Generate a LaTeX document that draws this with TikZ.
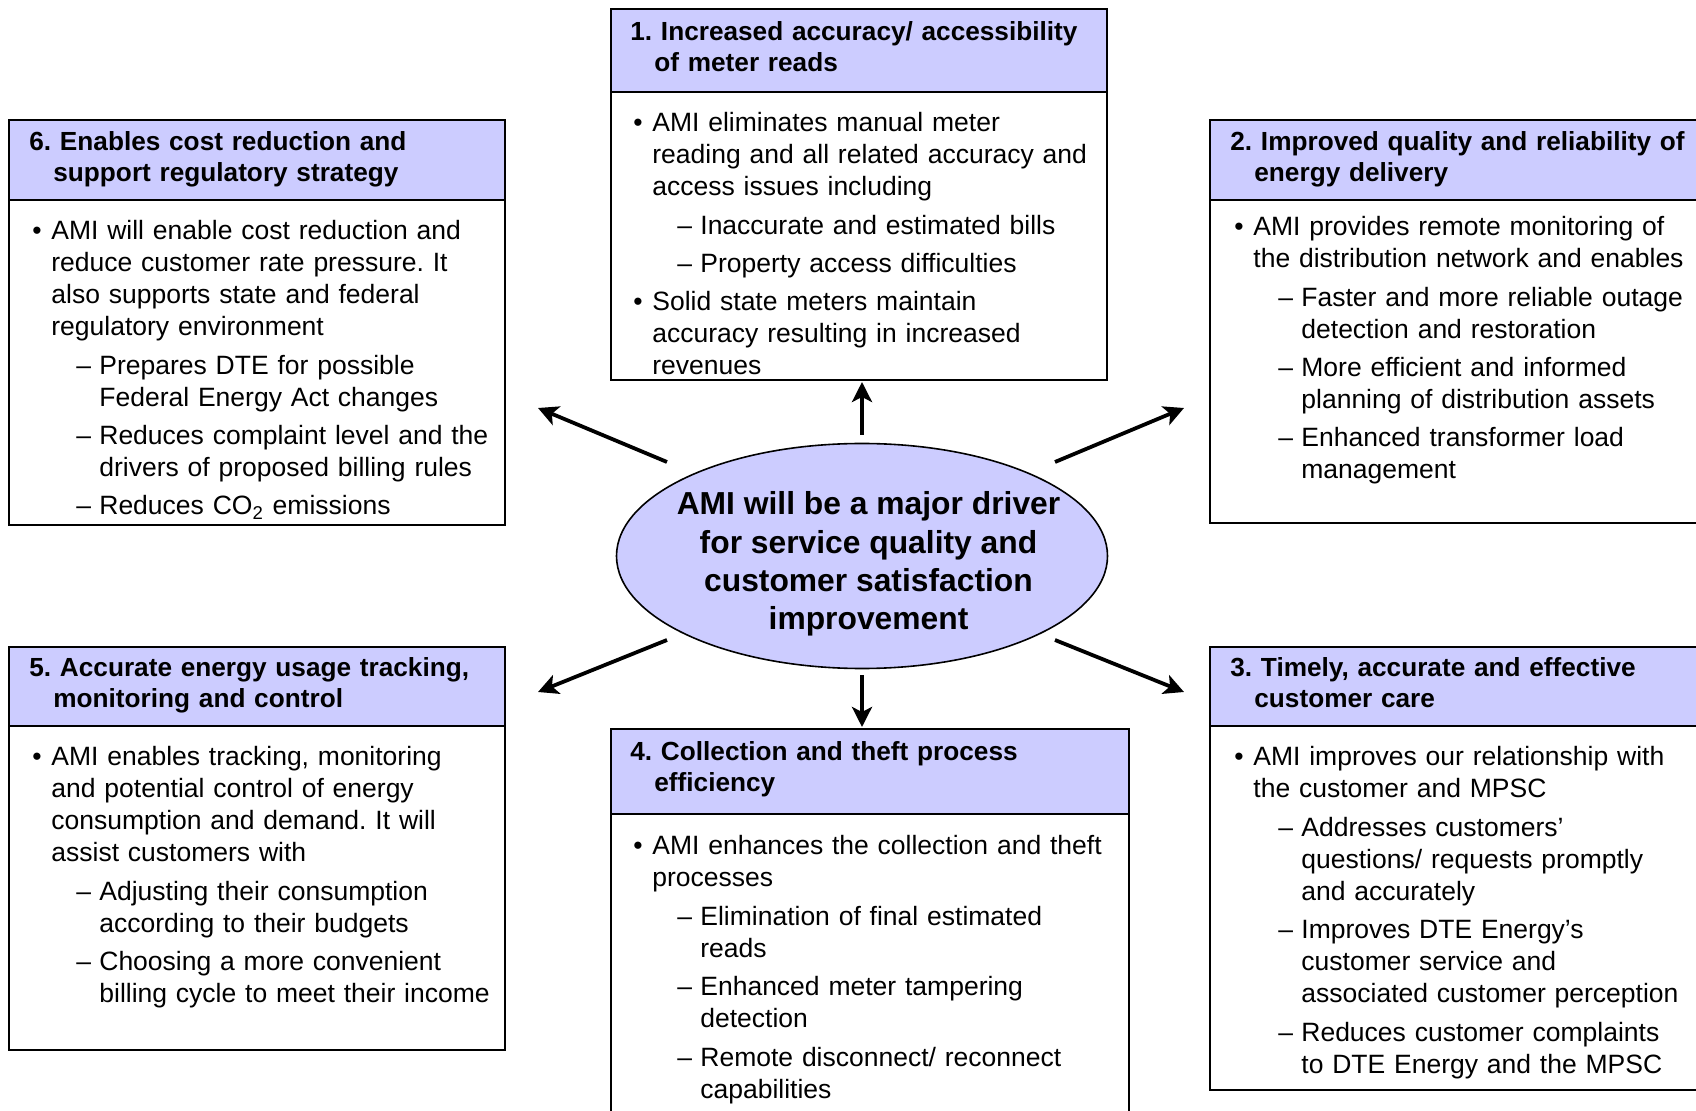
\documentclass[tikz,border=0pt]{standalone}
\usepackage{fontspec}
\setmainfont{Liberation Sans}
\usetikzlibrary{positioning,shapes.geometric,arrows.meta}
\definecolor{headfill}{RGB}{204,204,255}
\frenchspacing
\newcommand{\hd}[1]{\noindent\hangindent=12pt\hangafter=1 #1\par}
\newcommand{\bul}[1]{\par\noindent\hangindent=9.5pt\hangafter=1\makebox[9.5pt][l]{\textbullet}#1\par}
\newcommand{\dsh}[1]{\par\noindent\hangindent=33.5pt\hangafter=1\hspace*{22pt}\makebox[11.5pt][l]{--}#1\par}

\begin{document}
\begin{tikzpicture}[x=0.5pt, y=-0.5pt,
    head/.style={rectangle, draw, fill=headfill, line width=0.8pt, anchor=north west, outer sep=0pt, inner sep=0pt},
    body/.style={rectangle, draw, fill=white, line width=0.8pt, anchor=north west, outer sep=0pt, inner sep=0pt},
    headtext/.style={anchor=north west, inner sep=0pt, text width=250pt, font=\frenchspacing\bfseries\fontsize{13.1}{15.7}\selectfont, execute at begin node=\raggedright},
    bodytext/.style={anchor=north west, inner sep=0pt, text width=260pt, font=\frenchspacing\fontsize{13.25}{16}\selectfont, execute at begin node={\raggedright\setlength{\parskip}{3.2pt}}},
    hub/.style={ellipse, draw, fill=headfill, line width=0.8pt, minimum width=245.5pt, minimum height=112.5pt, inner sep=0pt},
    hubtext/.style={align=center, inner sep=0pt, font=\bfseries\fontsize{15.9}{19.1}\selectfont},
    arrow/.style={-{Stealth[length=10pt, width=10pt, inset=2.5pt]}, line width=1.9pt}]

    \path[use as bounding box, fill=white] (0,0) rectangle (1696,1111);

    % centre
    \node[hub] (hub) at (862,556) {};
    \node[hubtext] (hubtxt) at ([xshift=3.25pt, yshift=-4pt]hub.center) {AMI will be a major driver\\for service quality and\\customer satisfaction\\improvement};

    % 1
    \node[head, minimum width=248pt, minimum height=41.5pt] (h1) at (611,9) {};
    \node[body, minimum width=248pt, minimum height=144pt] (b1) at (h1.south west) {};
    \node[headtext] (ht1) at ([shift={(9.5pt,-6.1pt)}]h1.north west) {\hd{1. Increased accuracy/ accessibility\newline of meter reads}};
    \node[bodytext] (bt1) at ([shift={(11pt,-0.5pt)}]b1.north west) {%
        \bul{AMI eliminates manual meter\newline reading and all related accuracy and\newline access issues including}
        \dsh{Inaccurate and estimated bills}
        \dsh{Property access difficulties}
        \bul{Solid state meters maintain\newline accuracy resulting in increased\newline revenues}};

    % 2
    \node[head, minimum width=255pt, minimum height=40pt] (h2) at (1210,120) {};
    \node[body, minimum width=255pt, minimum height=161.5pt] (b2) at (h2.south west) {};
    \node[headtext] (ht2) at ([shift={(10pt,-5.6pt)}]h2.north west) {\hd{2. Improved quality and reliability of\newline energy delivery}};
    \node[bodytext] (bt2) at ([shift={(12pt,1.5pt)}]b2.north west) {%
        \bul{AMI provides remote monitoring of\newline the distribution network and enables}
        \dsh{Faster and more reliable outage\newline detection and restoration}
        \dsh{More efficient and informed\newline planning of distribution assets}
        \dsh{Enhanced transformer load\newline management}};

    % 3
    \node[head, minimum width=255pt, minimum height=39.5pt] (h3) at (1210,647) {};
    \node[body, minimum width=255pt, minimum height=182pt] (b3) at (h3.south west) {};
    \node[headtext] (ht3) at ([shift={(10pt,-5.1pt)}]h3.north west) {\hd{3. Timely, accurate and effective\newline customer care}};
    \node[bodytext] (bt3) at ([shift={(12pt,-0.5pt)}]b3.north west) {%
        \bul{AMI improves our relationship with\newline the customer and MPSC}
        \dsh{Addresses customers’\newline questions/ requests promptly\newline and accurately}
        \dsh{Improves DTE Energy’s\newline customer service and\newline associated customer perception}
        \dsh{Reduces customer complaints\newline to DTE Energy and the MPSC}};

    % 4
    \node[head, minimum width=259pt, minimum height=42.5pt] (h4) at (611,729) {};
    \node[body, minimum width=259pt, minimum height=158pt] (b4) at (h4.south west) {};
    \node[headtext] (ht4) at ([shift={(9.5pt,-6.1pt)}]h4.north west) {\hd{4. Collection and theft process\newline efficiency}};
    \node[bodytext] (bt4) at ([shift={(11pt,-1pt)}]b4.north west) {%
        \bul{AMI enhances the collection and theft\newline processes}
        \dsh{Elimination of final estimated\newline reads}
        \dsh{Enhanced meter tampering\newline detection}
        \dsh{Remote disconnect/ reconnect\newline capabilities}};

    % 5
    \node[head, minimum width=248pt, minimum height=39.5pt] (h5) at (9,647) {};
    \node[body, minimum width=248pt, minimum height=162pt] (b5) at (h5.south west) {};
    \node[headtext] (ht5) at ([shift={(10pt,-5.1pt)}]h5.north west) {\hd{5. Accurate energy usage tracking,\newline monitoring and control}};
    \node[bodytext] (bt5) at ([shift={(11.5pt,-0.5pt)}]b5.north west) {%
        \bul{AMI enables tracking, monitoring\newline and potential control of energy\newline consumption and demand. It will\newline assist customers with}
        \dsh{Adjusting their consumption\newline according to their budgets}
        \dsh{Choosing a more convenient\newline billing cycle to meet their income}};

    % 6
    \node[head, minimum width=248pt, minimum height=40pt] (h6) at (9,120) {};
    \node[body, minimum width=248pt, minimum height=162.5pt] (b6) at (h6.south west) {};
    \node[headtext] (ht6) at ([shift={(10pt,-5.6pt)}]h6.north west) {\hd{6. Enables cost reduction and\newline support regulatory strategy}};
    \node[bodytext] (bt6) at ([shift={(11.5pt,-0.5pt)}]b6.north west) {%
        \bul{AMI will enable cost reduction and\newline reduce customer rate pressure. It\newline also supports state and federal\newline regulatory environment}
        \dsh{Prepares DTE for possible\newline Federal Energy Act changes}
        \dsh{Reduces complaint level and the\newline drivers of proposed billing rules}
        \dsh{Reduces CO\textsubscript{2} emissions}};

    % arrows out of the centre
    \coordinate (upTail) at (862,435);   \coordinate (upTip) at (862,382);
    \coordinate (downTail) at (862,675); \coordinate (downTip) at (862,727);
    \coordinate (ulTail) at (667,462);   \coordinate (ulTip) at (538,408);
    \coordinate (urTail) at (1055,462);  \coordinate (urTip) at (1184,408);
    \coordinate (llTail) at (667,640);   \coordinate (llTip) at (538,692);
    \coordinate (lrTail) at (1055,640);  \coordinate (lrTip) at (1184,692);
    \draw[arrow] (upTail) -- (upTip);
    \draw[arrow] (downTail) -- (downTip);
    \draw[arrow] (ulTail) -- (ulTip);
    \draw[arrow] (urTail) -- (urTip);
    \draw[arrow] (llTail) -- (llTip);
    \draw[arrow] (lrTail) -- (lrTip);
\end{tikzpicture}
\end{document}
